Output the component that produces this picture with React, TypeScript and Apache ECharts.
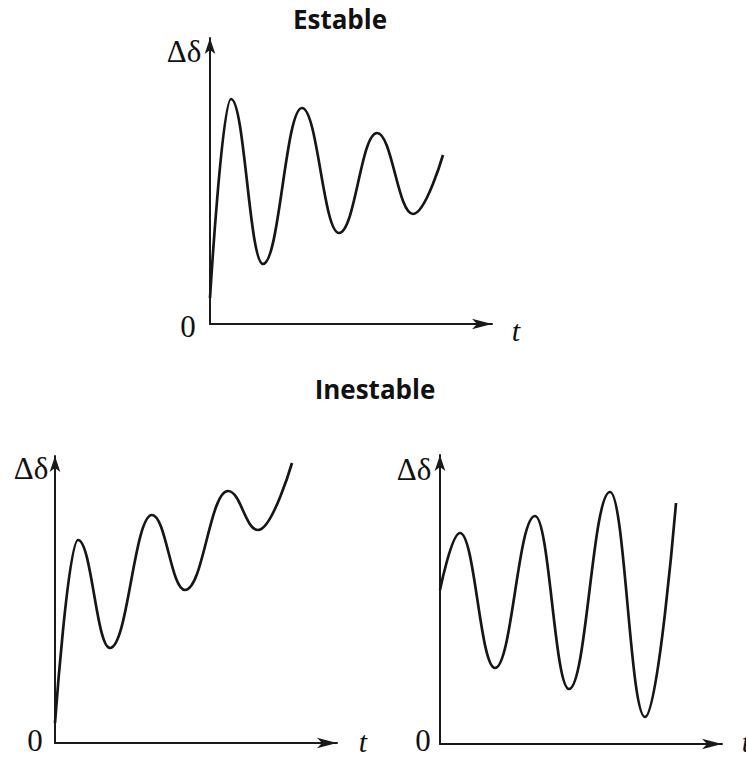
import React, { useEffect, useRef } from "react";
import * as echarts from "echarts";

// Stable oscillation (top): start, extrema, end
const stableT = [0, 21, 53, 92, 129, 167, 203, 233];
const stableV = [26, 225, 60, 216, 91, 191, 110, 169];

// Unstable, drifting upward (bottom left)
const driftT = [0, 23, 55, 97, 130, 173, 203, 237];
const driftV = [20, 203, 95, 228, 153, 252, 213, 280];

// Unstable, growing oscillation (bottom right)
const growT = [0, 20, 55, 95, 129, 170, 205, 236];
const growV = [154, 211, 76, 228, 55, 252, 27, 241];

const titles = ["Estable", "Inestable"];
const yName = "Δδ";
const xName = "t";
const originLabel = "0";

const pairs = (t: number[], v: number[]) => t.map((x, i) => [x, v[i]]);

export default function App() {
  const ref = useRef<HTMLDivElement>(null);
  useEffect(() => {
    if (!ref.current) return;
    const chart = echarts.init(ref.current, null, { renderer: "svg" });
    const grids = [
      { left: 210, top: 38, width: 282, height: 286 },
      { left: 55, top: 456, width: 282, height: 287 },
      { left: 440, top: 455, width: 282, height: 289 },
    ];
    const axisLine = (sz: number[]) => ({
      show: true,
      symbol: ["none", "arrow"],
      symbolSize: sz,
      lineStyle: { color: "#1a1a1a", width: 2 },
    });
    const xAxes = grids.map((g, i) => ({
      type: "value",
      gridIndex: i,
      min: 0,
      max: g.width,
      axisLine: axisLine([8, 20]),
      axisTick: { show: false },
      axisLabel: { show: false },
      splitLine: { show: false },
    }));
    const yAxes = grids.map((g, i) => ({
      type: "value",
      gridIndex: i,
      min: 0,
      max: g.height,
      axisLine: axisLine([8, 16]),
      axisTick: { show: false },
      axisLabel: { show: false },
      splitLine: { show: false },
    }));
    const datasets = [pairs(stableT, stableV), pairs(driftT, driftV), pairs(growT, growV)];
    const series = datasets.map((d, i) => ({
      type: "line",
      xAxisIndex: i,
      yAxisIndex: i,
      data: d,
      smooth: 0.42,
      smoothMonotone: "x",
      symbol: "none",
      lineStyle: { color: "#161616", width: 2.7 },
    }));
    const serif = "'Liberation Serif', 'DejaVu Serif', serif";
    const txt = (text: string, x: number, y: number, font: string, align = "center") => ({
      type: "text",
      x,
      y,
      silent: true,
      style: {
        text,
        font,
        fill: "#111",
        align,
        verticalAlign: "middle",
        textAlign: align,
        textVerticalAlign: "middle",
      },
    });
    const titleFont = "bold 26px 'Open Sans', sans-serif";
    const symFont = `31px ${serif}`;
    const tFont = `italic 30px ${serif}`;
    chart.setOption({
      animation: false,
      grid: grids,
      xAxis: xAxes,
      yAxis: yAxes,
      series,
      graphic: [
        txt(titles[0], 340, 19, titleFont),
        txt(titles[1], 375, 389, titleFont),
        txt(yName, 184, 51, symFont),
        txt(originLabel, 188, 326, symFont),
        txt(xName, 516, 330, tFont),
        txt(yName, 31, 468, symFont),
        txt(originLabel, 35, 740, symFont),
        txt(xName, 363, 741, tFont),
        txt(yName, 414, 469, symFont),
        txt(originLabel, 423, 740, symFont),
        txt(xName, 746, 741, tFont),
      ],
    });
    return () => chart.dispose();
  }, []);
  return (
    <div
      ref={ref}
      style={{ position: "fixed", left: 0, top: 0, width: 746, height: 759, background: "#fff" }}
    />
  );
}
